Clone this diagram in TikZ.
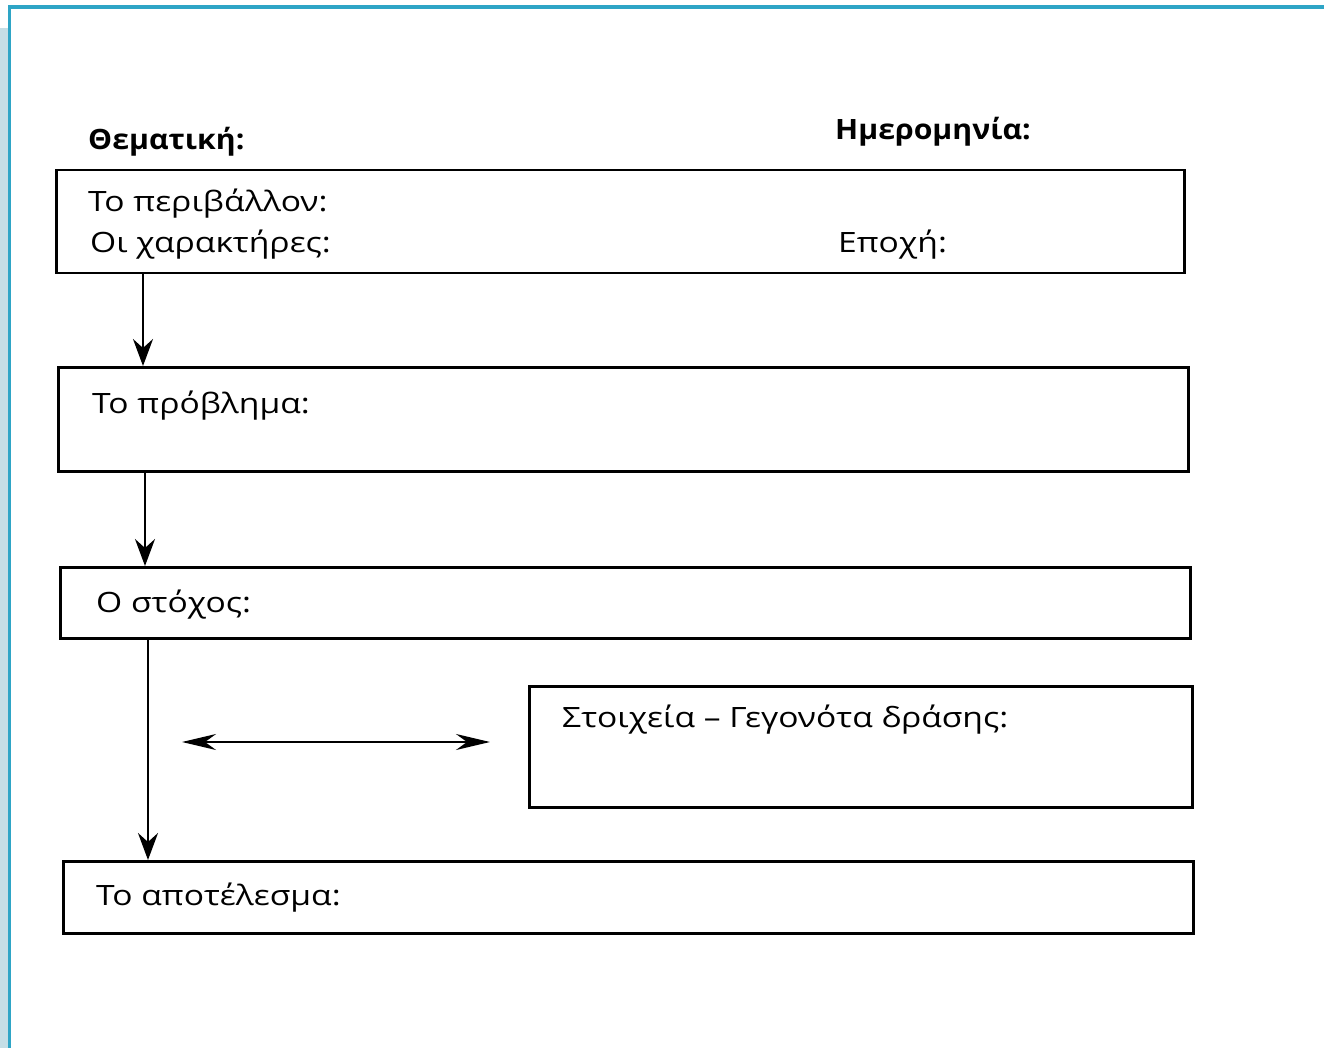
\documentclass[tikz,border=0pt]{standalone}
\usepackage{fontspec}
\setmainfont{Open Sans}[FakeStretch=1.2]
\newfontfamily\headfont{Open Sans}[FakeStretch=1.08]
\usetikzlibrary{arrows.meta}
\definecolor{frameblue}{HTML}{2EA5C6}
\definecolor{stripblue}{HTML}{C4DEE6}
\tikzset{x=1pt,y=-1pt,
    box/.style={draw,line width=2.5pt,inner sep=0pt,anchor=north west},
    lbl/.style={anchor=base west,inner sep=0pt,font=\fontsize{28}{30}\selectfont},
    ttl/.style={lbl,font=\headfont\fontsize{28}{30}\selectfont\bfseries},
    arr/.style={line width=2.3pt,-{Stealth[length=27pt,width=20pt,inset=9pt]}},
    darr/.style={line width=2.3pt,{Stealth[length=34pt,width=16pt,inset=11pt]}-{Stealth[length=34pt,width=16pt,inset=11pt]}},
    }
\begin{document}
\begin{tikzpicture}
\useasboundingbox (0,0) rectangle (1324,1048);
% frame
\fill[stripblue] (0,28) rectangle (8,1048);
\draw[frameblue,line width=3.5pt] (9.5,1048) -- (9.5,7) -- (1324,7);
% headings
\node[ttl] (theme) at (88,150) {Θεματική:};
\node[ttl] (date) at (835,140) {Ημερομηνία:};
% boxes
\node[box,minimum width=1128pt,minimum height=103pt] (setting) at (55,169) {};
\node[box,minimum width=1130pt,minimum height=104pt] (problem) at (57,366) {};
\node[box,minimum width=1130pt,minimum height=71pt] (goal) at (59,566) {};
\node[box,minimum width=663pt,minimum height=121pt] (events) at (528,685) {};
\node[box,minimum width=1130pt,minimum height=72pt] (outcome) at (62,860) {};
% texts
\node[lbl] (env) at (88,212) {Το περιβάλλον:};
\node[lbl] (chars) at (90,253) {Οι χαρακτήρες:};
\node[lbl] (era) at (838,253) {Εποχή:};
\node[lbl] (prob) at (92,413) {Το πρόβλημα:};
\node[lbl] (aim) at (96,612) {Ο στόχος:};
\node[lbl] (acts) at (562,727) {Στοιχεία – Γεγονότα δράσης:};
\node[lbl] (res) at (96,905) {Το αποτέλεσμα:};
% arrows
\draw[arr] ([xshift=88pt]setting.south west) -- ([xshift=88pt]setting.south west |- problem.north);
\draw[arr] ([xshift=88pt]problem.south west) -- ([xshift=88pt]problem.south west |- goal.north);
\draw[arr] ([xshift=89pt]goal.south west) -- ([xshift=89pt]goal.south west |- outcome.north);
\coordinate (dl) at (182,742);
\coordinate (dr) at (490,742);
\draw[darr] (dl) -- (dr);
\end{tikzpicture}
\end{document}
